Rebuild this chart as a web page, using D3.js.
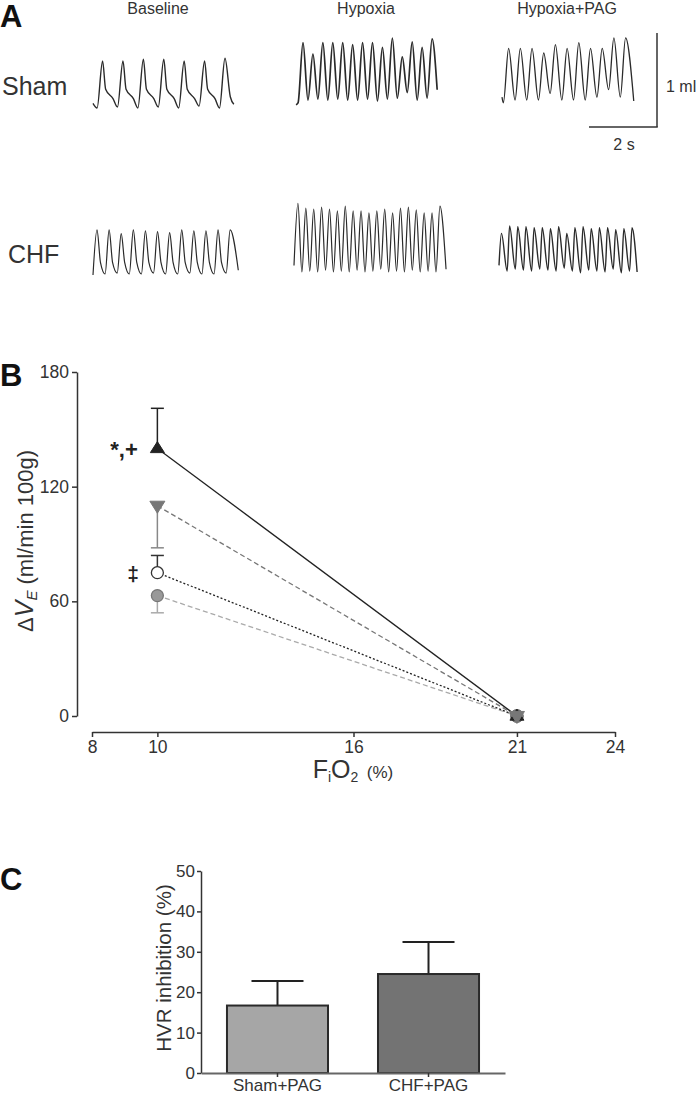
<!DOCTYPE html>
<html><head><meta charset="utf-8">
<script src="https://cdn.jsdelivr.net/npm/d3@7"></script>
<style>
body{margin:0;background:#fff}
svg{display:block;font-family:"Liberation Sans",Arial,Helvetica,sans-serif}
</style>
</head><body>
<svg id="chart" width="700" height="1095"></svg>
<script>
// ---------------- DATA ----------------
// Panel A: breathing traces (ml above end-expiratory level), read per breath
const traceConditions = ["Baseline", "Hypoxia", "Hypoxia+PAG"];
const traceGroups = ["Sham", "CHF"];
// breath period (s) per trace
const shamPeriods = [0.60, 0.292, 0.344];
const chfPeriods  = [0.356, 0.232, 0.24];

const shamBaselinePeaks   = [0.50, 0.50, 0.52, 0.52, 0.50, 0.50, 0.53];
const shamBaselineTroughs = [0.00, 0.01, 0.00, 0.01, 0.00, 0.02, 0.00];
const shamHypoxiaPeaks    = [0.62, 0.50, 0.62, 0.62, 0.62, 0.60, 0.62, 0.62, 0.57, 0.67, 0.47, 0.63, 0.57, 0.66];
const shamHypoxiaTroughs  = [-0.02, 0.01, 0.02, 0.01, 0.02, 0.01, 0.01, 0.02, 0.00, 0.02, 0.03, 0.09, 0.01, 0.03];
const shamPagPeaks        = [0.55, 0.55, 0.55, 0.50, 0.59, 0.55, 0.61, 0.55, 0.55, 0.66, 0.66];
const shamPagTroughs      = [-0.03, 0.00, 0.00, 0.00, 0.07, 0.00, 0.00, 0.00, 0.03, 0.11, 0.03];

const chfBaselinePeaks    = [0.47, 0.47, 0.43, 0.47, 0.46, 0.45, 0.44, 0.47, 0.46, 0.46, 0.47, 0.47];
const chfBaselineTroughs  = [-0.01, 0.00, 0.01, 0.00, 0.00, 0.01, 0.00, 0.00, 0.01, 0.00, 0.00, 0.01];
const chfHypoxiaPeaks     = [0.73, 0.68, 0.67, 0.69, 0.67, 0.65, 0.70, 0.65, 0.65, 0.63, 0.65, 0.67, 0.63, 0.68, 0.69, 0.66, 0.63, 0.63, 0.70];
const chfHypoxiaTroughs   = [0.07, 0.00, 0.01, 0.00, 0.02, 0.00, 0.01, 0.00, 0.02, 0.00, 0.01, 0.03, 0.00, 0.01, 0.00, 0.02, 0.00, 0.01, 0.00];
const chfPagPeaks         = [0.40, 0.48, 0.47, 0.47, 0.46, 0.46, 0.45, 0.47, 0.40, 0.46, 0.47, 0.45, 0.46, 0.46, 0.44, 0.45, 0.46];
const chfPagTroughs       = [0.06, 0.00, 0.02, 0.01, 0.00, 0.02, 0.01, 0.00, 0.03, 0.00, -0.02, 0.01, 0.00, -0.01, 0.02, -0.02, 0.00];
// trace start / end levels (ml)
const traceStartLevels = [[0.05, -0.04, 0.03], [-0.01, 0.07, 0.06]];
const traceEndLevels   = [[0.04, 0.12, -0.01], [0.04, 0.03, -0.01]];
// post-inspiratory shoulder levels for baseline traces (ml)
const shoulderLevels = [[0.20, 0.10], [0.12, 0.05]];

const scaleBarVolume = 1;  // ml
const scaleBarTime = 2;    // s

// Panel B: ΔVE vs FiO2
const fio2Levels = [10, 21];
const xTicksB = [8, 10, 16, 21, 24];
const yTicksB = [0, 60, 120, 180];
const seriesB = ["CHF", "CHF+PAG", "Sham", "Sham+PAG"];
const chfVE      = [140, 0];
const chfPagVE   = [110, 0];
const shamVE     = [75, 0];
const shamPagVE  = [63, 0];
const chfSEM     = [21, 0];
const chfPagSEM  = [22, 0];
const shamSEM    = [9, 0];
const shamPagSEM = [9, 0];

// Panel C: HVR inhibition
const groupsC = ["Sham+PAG", "CHF+PAG"];
const hvrInhibition = [16.7, 24.5];
const hvrSEM = [6.1, 7.9];
const yTicksC = [0, 10, 20, 30, 40, 50];

// ---------------- DRAW ----------------
const svg = d3.select("#chart");
const ink = "#333";

// Panel letters
[["A", 0, 27], ["B", 0, 386], ["C", 0, 890]].forEach(([t, x, y]) => {
  svg.append("text").attr("x", x).attr("y", y).attr("font-size", 31)
    .attr("font-weight", "bold").attr("fill", "#111").text(t);
});

// ===== Panel A =====
const tScale = d3.scaleLinear().domain([0, 1]).range([0, 34]);   // px per s
const vScale = d3.scaleLinear().domain([0, 1]).range([0, -94]);  // px per ml

const colTitleX = [158, 366, 567];
traceConditions.forEach((c, i) => {
  svg.append("text").attr("x", colTitleX[i]).attr("y", 14).attr("text-anchor", "middle")
    .attr("font-size", 16).attr("fill", ink).text(c);
});
svg.append("text").attr("x", 2).attr("y", 95).attr("font-size", 25).attr("fill", ink).text(traceGroups[0]);
svg.append("text").attr("x", 8).attr("y", 263).attr("font-size", 25).attr("fill", ink).text(traceGroups[1]);

const traceDefs = [
  {g: 0, c: 0, peaks: shamBaselinePeaks, troughs: shamBaselineTroughs, x0: 93, y0: 108, lead: 0.12, rise: 0.27, tail: 0.26, shape: "sham", w: 1.4},
  {g: 0, c: 1, peaks: shamHypoxiaPeaks, troughs: shamHypoxiaTroughs, x0: 296, y0: 101, lead: 0.06, rise: 0.5, tail: 0.15, shape: "sine", w: 1.7},
  {g: 0, c: 2, peaks: shamPagPeaks, troughs: shamPagTroughs, x0: 502, y0: 100, lead: 0.04, rise: 0.45, tail: 0.24, shape: "sine", w: 1.3},
  {g: 1, c: 0, peaks: chfBaselinePeaks, troughs: chfBaselineTroughs, x0: 93, y0: 274, lead: 0.0, rise: 0.33, tail: 0.24, shape: "chf", w: 1.2},
  {g: 1, c: 1, peaks: chfHypoxiaPeaks, troughs: chfHypoxiaTroughs, x0: 294, y0: 272, lead: 0.0, rise: 0.5, tail: 0.18, shape: "sine", w: 1.2},
  {g: 1, c: 2, peaks: chfPagPeaks, troughs: chfPagTroughs, x0: 499, y0: 271, lead: 0.0, rise: 0.3, tail: 0.15, shape: "sine", w: 1.4}
];
const periods = [shamPeriods, chfPeriods];

traceDefs.forEach(d => {
  const P = periods[d.g][d.c];
  const pts = [[0, traceStartLevels[d.g][d.c]]];
  const sh = shoulderLevels[d.g][0], pl = shoulderLevels[d.g][1];
  d.peaks.forEach((pk, i) => {
    const t = d.lead + i * P;
    if (!(i === 0 && d.lead === 0)) pts.push([t, d.troughs[i]]);
    pts.push([t + d.rise * P, pk]);
    if (i < d.peaks.length - 1) {
      if (d.shape === "sham") {
        pts.push([t + 0.42 * P, sh]);
        pts.push([t + 0.78 * P, pl]);
      } else if (d.shape === "chf") {
        pts.push([t + 0.62 * P, sh]);
      }
    }
  });
  const lastT = d.lead + (d.peaks.length - 1) * P + d.rise * P;
  if (d.shape === "sham") pts.push([lastT + 0.6 * d.tail, sh * 0.6]);
  pts.push([lastT + d.tail, traceEndLevels[d.g][d.c]]);
  const line = d3.line()
    .x(p => d.x0 + tScale(p[0]))
    .y(p => d.y0 + vScale(p[1]))
    .curve(d3.curveMonotoneX);
  svg.append("path").attr("d", line(pts)).attr("fill", "none")
    .attr("stroke", "#2a2a2a").attr("stroke-width", d.w).attr("stroke-linejoin", "round");
});

// scale bar
const sbX = 657, sbY = 127;
svg.append("line").attr("x1", sbX).attr("x2", sbX).attr("y1", sbY + vScale(scaleBarVolume)).attr("y2", sbY)
  .attr("stroke", ink).attr("stroke-width", 1.5);
svg.append("line").attr("x1", sbX - tScale(scaleBarTime)).attr("x2", sbX + 0.75).attr("y1", sbY).attr("y2", sbY)
  .attr("stroke", ink).attr("stroke-width", 1.5);
svg.append("text").attr("x", 666).attr("y", 92).attr("font-size", 16).attr("fill", ink).text(scaleBarVolume + " ml");
svg.append("text").attr("x", 624).attr("y", 150).attr("text-anchor", "middle").attr("font-size", 16).attr("fill", ink).text(scaleBarTime + " s");

// ===== Panel B =====
const xB = d3.scaleLinear().domain([8, 24]).range([92, 615]);
const yB = d3.scaleLinear().domain([0, 180]).range([716, 372]);

function styleAxis(g, fs) {
  g.selectAll("path.domain").attr("stroke", ink).attr("stroke-width", 1.5);
  g.selectAll(".tick line").attr("stroke", ink).attr("stroke-width", 1.5);
  g.selectAll(".tick text").attr("fill", ink).attr("font-size", fs)
    .attr("font-family", "Liberation Sans, Arial, sans-serif");
}
const gyB = svg.append("g").attr("transform", "translate(77,0)")
  .call(d3.axisLeft(yB).tickValues(yTicksB).tickSize(5).tickSizeOuter(0).tickPadding(3));
styleAxis(gyB, 17.5);
const gxB = svg.append("g").attr("transform", "translate(0,732)")
  .call(d3.axisBottom(xB).tickValues(xTicksB).tickSize(5).tickSizeOuter(0).tickPadding(4));
styleAxis(gxB, 17.5);

// x label FiO2 (%)
const xl = svg.append("text").attr("x", 353).attr("y", 778).attr("text-anchor", "middle").attr("fill", ink);
xl.append("tspan").attr("font-size", 25).text("F");
xl.append("tspan").attr("font-size", 14).attr("dy", 4).text("i");
xl.append("tspan").attr("font-size", 25).attr("dy", -4).text("O");
xl.append("tspan").attr("font-size", 14).attr("dy", 4).text("2");
xl.append("tspan").attr("font-size", 17).attr("dy", -4).text("\u2002(%)");

// y label ΔVE (ml/min 100g)
const yl = svg.append("text").attr("transform", "translate(33,541) rotate(-90)")
  .attr("text-anchor", "middle").attr("fill", ink);
yl.append("tspan").attr("font-size", 22).text("\u0394");
yl.append("tspan").attr("font-size", 25).attr("font-style", "italic").text("V");
yl.append("tspan").attr("font-size", 15).attr("font-style", "italic").attr("dy", 4).text("E");
yl.append("tspan").attr("font-size", 22).attr("dy", -4).text(" (ml/min 100g)");

const series = [
  {name: seriesB[3], v: shamPagVE, e: shamPagSEM, dir: -1, line: "#aaa", dash: "5,3", err: "#aaa", marker: "circle", fill: "#999", stroke: "#777"},
  {name: seriesB[2], v: shamVE, e: shamSEM, dir: 1, line: "#222", dash: "2,2", err: "#333", marker: "circle", fill: "#fff", stroke: "#333"},
  {name: seriesB[1], v: chfPagVE, e: chfPagSEM, dir: -1, line: "#777", dash: "5,3", err: "#888", marker: "down", fill: "#777", stroke: "#777"},
  {name: seriesB[0], v: chfVE, e: chfSEM, dir: 1, line: "#222", dash: null, err: "#222", marker: "up", fill: "#222", stroke: "#222"}
];
series.forEach(s => {
  const ln = d3.line().x((d, i) => xB(fio2Levels[i])).y(d => yB(d));
  svg.append("path").attr("d", ln(s.v)).attr("fill", "none").attr("stroke", s.line)
    .attr("stroke-width", 1.3).attr("stroke-dasharray", s.dash);
});
series.forEach(s => {
  s.v.forEach((v, i) => {
    if (!s.e[i]) return;
    const x = xB(fio2Levels[i]);
    const yEnd = yB(v + s.dir * s.e[i]);
    svg.append("line").attr("x1", x).attr("x2", x).attr("y1", yB(v)).attr("y2", yEnd)
      .attr("stroke", s.err).attr("stroke-width", 1.5);
    svg.append("line").attr("x1", x - 6.5).attr("x2", x + 6.5).attr("y1", yEnd).attr("y2", yEnd)
      .attr("stroke", s.err).attr("stroke-width", 1.5);
  });
});
const drawOrder = [series[1], series[0], series[3], series[2]];
drawOrder.forEach(s => {
  s.v.forEach((v, i) => {
    const x = xB(fio2Levels[i]), y = yB(v);
    if (s.marker === "circle") {
      svg.append("circle").attr("cx", x).attr("cy", y).attr("r", 6)
        .attr("fill", s.fill).attr("stroke", s.stroke).attr("stroke-width", 1.3);
    } else {
      const w = s.marker === "down" ? 7.5 : 7, h = s.marker === "down" ? 12 : 11;
      const p = s.marker === "up"
        ? [[x, y - h * 0.62], [x + w, y + h * 0.38], [x - w, y + h * 0.38]]
        : [[x, y + h * 0.62], [x + w, y - h * 0.38], [x - w, y - h * 0.38]];
      svg.append("path").attr("d", "M" + p.join("L") + "Z")
        .attr("fill", s.fill).attr("stroke", s.stroke).attr("stroke-width", 1);
    }
  });
});
svg.append("text").attr("x", 124).attr("y", 457).attr("text-anchor", "middle")
  .attr("font-size", 22).attr("font-weight", "bold").attr("fill", "#222").text("*,+");
svg.append("text").attr("x", 133).attr("y", 581).attr("text-anchor", "middle")
  .attr("font-size", 21).attr("font-weight", "bold").attr("fill", "#222").text("\u2021");

// ===== Panel C =====
const xC = d3.scaleBand().domain(groupsC).range([201, 505]).paddingInner(0.331).paddingOuter(0.172);
const yC = d3.scaleLinear().domain([0, 50]).range([1073, 871]);

groupsC.forEach((g, i) => {
  const cx = xC(g) + xC.bandwidth() / 2;
  const yTop = yC(hvrInhibition[i] + hvrSEM[i]);
  svg.append("line").attr("x1", cx).attr("x2", cx).attr("y1", yC(hvrInhibition[i])).attr("y2", yTop)
    .attr("stroke", "#222").attr("stroke-width", 2);
  svg.append("line").attr("x1", cx - 26).attr("x2", cx + 26).attr("y1", yTop).attr("y2", yTop)
    .attr("stroke", "#222").attr("stroke-width", 2);
});
const barFill = ["#a6a6a6", "#737373"];
svg.selectAll("rect.bar").data(groupsC).enter().append("rect").attr("class", "bar")
  .attr("x", d => xC(d)).attr("width", xC.bandwidth())
  .attr("y", (d, i) => yC(hvrInhibition[i])).attr("height", (d, i) => yC(0) - yC(hvrInhibition[i]))
  .attr("fill", (d, i) => barFill[i]).attr("stroke", "#2a2a2a").attr("stroke-width", 2);

const gyC = svg.append("g").attr("transform", "translate(201,0)")
  .call(d3.axisLeft(yC).tickValues(yTicksC).tickSize(4).tickSizeOuter(0).tickPadding(2));
styleAxis(gyC, 17);
const gxC = svg.append("g").attr("transform", "translate(0,1073)")
  .call(d3.axisBottom(xC).tickSize(4).tickSizeOuter(0).tickPadding(2));
styleAxis(gxC, 17);
gxC.selectAll("path.domain").attr("stroke", "#666").attr("stroke-width", 2);

svg.append("text").attr("transform", "translate(171,968) rotate(-90)").attr("text-anchor", "middle")
  .attr("font-size", 20.5).attr("fill", ink).text("HVR inhibition (%)");
</script>
</body></html>
